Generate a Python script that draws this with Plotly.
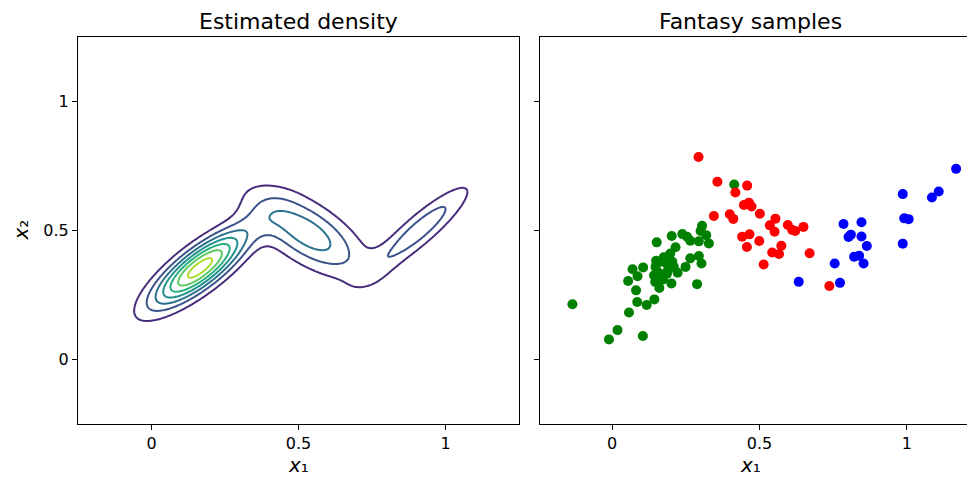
import numpy as np
import plotly.graph_objects as go

# ---------------- Gaussian mixture (estimated density) ----------------
mix_weights = [0.47, 0.37, 0.145]
mix_mean_x = [0.165, 0.528, 0.913]
mix_mean_y = [0.355, 0.492, 0.504]
mix_major_sd = [0.144, 0.158, 0.159]
mix_minor_sd = [0.047, 0.070, 0.037]
mix_angle_deg = [42.0, -38.0, 45.0]
n_levels_drawn = 7
peak_over_step = 7.5

# ---------------- Fantasy samples ----------------
green_x = [-0.135, -0.011, 0.018, 0.104, 0.057, 0.085, 0.117, 0.143, 0.081, 0.054,
           0.069, 0.086, 0.105, 0.151, 0.202, 0.238, 0.254, 0.265, 0.294, 0.319,
           0.305, 0.328, 0.215, 0.197, 0.175, 0.149, 0.147, 0.163, 0.184, 0.204,
           0.209, 0.189, 0.158, 0.142, 0.146, 0.160, 0.173, 0.201, 0.222, 0.249,
           0.265, 0.294, 0.303, 0.288, 0.186, 0.163, 0.414, 0.300]
green_y = [0.214, 0.078, 0.114, 0.091, 0.182, 0.223, 0.211, 0.233, 0.268, 0.304,
           0.350, 0.323, 0.357, 0.454, 0.479, 0.486, 0.476, 0.460, 0.458, 0.482,
           0.518, 0.450, 0.435, 0.411, 0.396, 0.383, 0.359, 0.379, 0.372, 0.379,
           0.359, 0.346, 0.336, 0.326, 0.301, 0.277, 0.310, 0.295, 0.336, 0.359,
           0.392, 0.401, 0.372, 0.292, 0.333, 0.307, 0.678, 0.498]

red_x = [0.293, 0.357, 0.458, 0.418, 0.447, 0.464, 0.473, 0.501, 0.345, 0.399,
         0.411, 0.554, 0.535, 0.551, 0.596, 0.611, 0.621, 0.649, 0.441, 0.466,
         0.499, 0.457, 0.574, 0.543, 0.566, 0.670, 0.514, 0.737]
red_y = [0.785, 0.689, 0.674, 0.647, 0.599, 0.608, 0.593, 0.565, 0.556, 0.563,
         0.545, 0.546, 0.520, 0.495, 0.521, 0.502, 0.498, 0.514, 0.476, 0.485,
         0.459, 0.436, 0.441, 0.415, 0.409, 0.412, 0.368, 0.285]

blue_x = [1.167, 1.108, 1.085, 0.986, 0.991, 1.006, 0.986, 0.785, 0.846, 0.810,
          0.802, 0.846, 0.864, 0.821, 0.838, 0.853, 0.755, 0.773, 0.633]
blue_y = [0.739, 0.651, 0.628, 0.641, 0.547, 0.544, 0.449, 0.525, 0.532, 0.484,
          0.475, 0.477, 0.440, 0.398, 0.402, 0.372, 0.372, 0.297, 0.301]

tick_vals = [0, 0.5, 1]
tick_text = ["0", "0.5", "1"]

# ---------------- density grid ----------------
grid_x = np.linspace(-0.25, 1.25, 361)
grid_y = np.linspace(-0.25, 1.25, 361)
GX, GY = np.meshgrid(grid_x, grid_y)
Z = np.zeros_like(GX)
for w, mx, my, sa, sb, ang in zip(mix_weights, mix_mean_x, mix_mean_y,
                                  mix_major_sd, mix_minor_sd, mix_angle_deg):
    t = np.deg2rad(ang)
    R = np.array([[np.cos(t), -np.sin(t)], [np.sin(t), np.cos(t)]])
    C = R @ np.diag([sa ** 2, sb ** 2]) @ R.T
    Ci = np.linalg.inv(C)
    dx = GX - mx
    dy = GY - my
    q = Ci[0, 0] * dx * dx + 2 * Ci[0, 1] * dx * dy + Ci[1, 1] * dy * dy
    Z += w * np.exp(-0.5 * q) / (2 * np.pi * np.sqrt(np.linalg.det(C)))

step = Z.max() / peak_over_step

viridis_cols = ["#472d7b", "#3b528b", "#2c728e", "#21918c", "#28ae80", "#5ec962", "#addc30"]
cscale = [[i / (len(viridis_cols) - 1), c] for i, c in enumerate(viridis_cols)]

fig = go.Figure()
fig.add_trace(go.Contour(
    x=grid_x, y=grid_y, z=Z,
    contours=dict(coloring="lines", start=step, end=step * (n_levels_drawn + 0.01), size=step),
    colorscale=cscale, showscale=False, line=dict(width=2, smoothing=1),
    hoverinfo="skip", xaxis="x", yaxis="y"))

for xs, ys, col in [(green_x, green_y, "#008000"), (red_x, red_y, "#ff0000"), (blue_x, blue_y, "#0000ff")]:
    fig.add_trace(go.Scatter(x=xs, y=ys, mode="markers",
                             marker=dict(color=col, size=10, line=dict(width=0)),
                             xaxis="x2", yaxis="y2", showlegend=False))

W, H = 967, 477
T, B = 37, 53
axfont = dict(family="DejaVu Sans", size=16, color="black")
common = dict(showgrid=False, zeroline=False, showline=True, linecolor="black", linewidth=1.2,
              ticks="outside", ticklen=5, tickwidth=1.2, tickcolor="black",
              tickvals=tick_vals, ticktext=tick_text, tickfont=axfont, automargin=False)

plot_h = H - T - B
label_y = (H - B - 464.5) / plot_h
lfont = dict(size=20, family="DejaVu Sans", color="black")
tfont = dict(size=22, family="DejaVu Sans", color="black")

fig.update_layout(
    width=W, height=H, showlegend=False,
    paper_bgcolor="white", plot_bgcolor="white",
    margin=dict(l=0, r=0, t=T, b=B),
    font=dict(family="DejaVu Sans", color="black"),
    xaxis=dict(domain=[78 / W, 519 / W], range=[-0.25, 1.25], mirror=True, anchor="y", **common),
    yaxis=dict(domain=[0, 1], range=[-0.25, 1.25], mirror=True, anchor="x", **common),
    xaxis2=dict(domain=[540 / W, 1.0], range=[-0.245, 1.204], mirror=True, anchor="y2", **common),
    yaxis2=dict(domain=[0, 1], range=[-0.25, 1.25], mirror=False, anchor="x2",
                showticklabels=False, **{k: v for k, v in common.items() if k != "tickfont"}),
    annotations=[
        dict(text="Estimated density", x=(78 + 519) / 2 / W, y=1, xref="paper", yref="paper",
             xanchor="center", yanchor="bottom", yshift=1, showarrow=False, font=tfont),
        dict(text="Fantasy samples", x=(540 + 967) / 2 / W - 0.003, y=1, xref="paper", yref="paper",
             xanchor="center", yanchor="bottom", yshift=1, showarrow=False, font=tfont),
        dict(text="<i>x</i>\u2081", x=(78 + 519) / 2 / W, y=label_y, xref="paper", yref="paper",
             xanchor="center", yanchor="middle", showarrow=False, font=lfont),
        dict(text="<i>x</i>\u2081", x=(540 + 967) / 2 / W - 0.003, y=label_y, xref="paper",
             yref="paper", xanchor="center", yanchor="middle", showarrow=False, font=lfont),
        dict(text="<i>x</i>\u2082", x=20 / W, y=0.5, xref="paper", yref="paper",
             xanchor="center", yanchor="middle", textangle=-90, showarrow=False, font=lfont),
    ],
)

fig.write_html("out.html")
